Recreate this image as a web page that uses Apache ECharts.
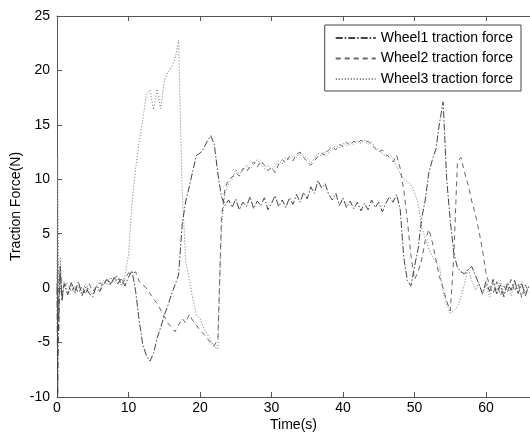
<!DOCTYPE html>
<html>
<head>
<meta charset="utf-8">
<script src="https://cdn.jsdelivr.net/npm/echarts@6/dist/echarts.min.js"></script>
<style>
  html, body { margin: 0; padding: 0; background: #fff; }
  #chart { width: 530px; height: 435px; }
</style>
</head>
<body>
<div id="chart"></div>
<script>
// Sample times in seconds (fine steps during the start-up transient, then every 0.5 s)
const time = [0, 0.1, 0.25, 0.45, 0.7,
  1, 1.5, 2, 2.5, 3, 3.5, 4, 4.5, 5, 5.5,
  6, 6.5, 7, 7.5, 8, 8.5, 9, 9.5, 10, 10.5,
  11, 11.5, 12, 12.5, 13, 13.5, 14, 14.5, 15, 15.5,
  16, 16.5, 17, 17.5, 18, 18.5, 19, 19.5, 20, 20.5,
  21, 21.5, 22, 22.5, 23, 23.5, 24, 24.5, 25, 25.5,
  26, 26.5, 27, 27.5, 28, 28.5, 29, 29.5, 30, 30.5,
  31, 31.5, 32, 32.5, 33, 33.5, 34, 34.5, 35, 35.5,
  36, 36.5, 37, 37.5, 38, 38.5, 39, 39.5, 40, 40.5,
  41, 41.5, 42, 42.5, 43, 43.5, 44, 44.5, 45, 45.5,
  46, 46.5, 47, 47.5, 48, 48.5, 49, 49.5, 50, 50.5,
  51, 51.5, 52, 52.5, 53, 53.5, 54, 54.5, 55, 55.5,
  56, 56.5, 57, 57.5, 58, 58.5, 59, 59.5, 60, 60.5,
  61, 61.5, 62, 62.5, 63, 63.5, 64, 64.5, 65, 65.5,
  66];

// Traction force of each wheel (N)
const wheel1 = [0, -10, -1.5, 2.0, -1.2,
  0.4, -0.6, 0.5, -0.3, 0.6, -0.7, 0.1, -0.5, -0.8, 0.2,
  -0.3, 0.4, 0.8, 0.3, 1.0, 0.4, 0.9, 0.2, 1.0, 1.6,
  -0.3, -3.0, -5.2, -6.2, -6.7, -6.0, -4.6, -3.6, -2.5, -1.6,
  -0.6, 0.3, 1.2, 5.8, 8.0, 9.3, 10.8, 12.2, 12.4, 12.8,
  13.5, 14.0, 13.2, 10.5, 8.4, 7.6, 8.1, 7.4, 8.2, 7.2,
  7.9, 7.5, 8.4, 7.3, 8.0, 7.6, 8.3, 7.2, 7.8, 8.5,
  7.5, 8.1, 7.4, 8.3, 7.7, 8.6, 7.9, 8.8, 8.2, 9.3,
  8.7, 9.9, 9.2, 9.6, 8.6, 8.1, 8.7, 7.6, 8.3, 7.4,
  8.0, 7.3, 7.9, 7.1, 7.8, 7.2, 8.1, 7.4, 7.9, 7.0,
  7.8, 8.4, 7.9, 8.6, 7.2, 2.8, 0.7, 0.2, 2.0, 3.6,
  6.4, 8.1, 10.6, 11.8, 12.8, 15.2, 17.1, 10.0, 6.2, 3.2,
  1.9, 1.5, 1.3, 1.7, 2.0, 1.2, 0.4, -0.5, 0.6, -0.3,
  0.8, -0.6, 0.3, -0.8, 0.5, -0.2, 0.7, -0.5, 0.4, -0.7,
  0.2];

const wheel2 = [0, 2.5, -4, 1.5, -0.6,
  0.2, 0.5, -0.4, 0.3, -0.5, 0.2, -0.6, 0.4, -0.3, 0.1,
  0.5, 0.2, 0.9, 0.4, 0.8, 1.2, 0.3, 0.8, 1.4, 1.3,
  1.5, 0.6, 0.3, 0.0, -0.5, -1.0, -1.4, -2.0, -2.6, -3.2,
  -3.6, -4.0, -3.4, -2.8, -3.2, -2.4, -3.0, -3.4, -3.9, -4.2,
  -4.6, -5.0, -5.3, -4.6, 6.5, 9.2, 10.0, 10.2, 10.6, 10.3,
  11.0, 10.7, 11.2, 11.6, 11.1, 11.7, 11.3, 10.8, 11.1, 10.6,
  11.4, 11.8, 11.5, 12.1, 11.7, 12.3, 12.5, 12.0, 11.6, 11.3,
  11.7, 12.1, 12.4, 12.2, 12.7, 13.0, 12.7, 13.2, 13.0, 13.4,
  13.1, 13.5, 13.3, 13.6, 13.4, 13.5, 13.2, 12.8, 12.5, 12.7,
  12.3, 12.0, 11.6, 12.2, 11.0, 9.0, 6.2, 3.0, 0.8, 1.5,
  2.6, 4.4, 5.4, 4.2, 2.6, 1.0, 0.0, -1.2, -2.1, 3.0,
  11.6, 12.0, 10.6, 9.5, 8.0, 6.8, 5.3, 3.5, 1.4, 0.2,
  -0.5, 0.6, -0.7, 0.2, -0.4, 0.8, -0.3, 0.5, -0.9, 0.3,
  -0.4];

const wheel3 = [0, 12, -3, 2.8, -1.0,
  0.6, -0.3, 0.3, -0.5, 0.2, -0.4, 0.4, -0.2, -0.6, 0.3,
  -0.1, 0.7, 0.3, 1.0, 0.5, 0.9, 0.2, 1.2, 3.0, 8.0,
  11.0, 13.5, 15.5, 17.8, 18.2, 16.4, 18.3, 16.5, 19.0, 19.8,
  20.3, 21.0, 22.8, 9.0, 2.5, 0.8, -1.0, -2.5, -2.8, -3.6,
  -4.2, -4.8, -5.4, -5.6, 5.5, 8.8, 9.6, 10.0, 10.9, 10.5,
  10.8, 11.3, 10.9, 11.4, 11.8, 11.4, 11.0, 11.3, 10.9, 11.2,
  11.7, 11.4, 12.0, 11.8, 12.2, 12.0, 12.4, 12.2, 11.9, 11.5,
  11.9, 12.4, 12.1, 12.6, 12.4, 12.8, 13.1, 12.9, 13.3, 13.1,
  13.4, 13.2, 13.5, 13.3, 13.6, 13.2, 13.4, 13.0, 12.6, 12.4,
  12.1, 12.3, 11.9, 11.2, 10.5, 10.0, 9.8, 9.5, 8.8, 7.8,
  5.6, 4.6, 3.6, 2.9, 2.4, 2.0, -0.4, -1.4, -2.3, -2.1,
  -1.7, -0.8, 0.4, 1.8, 0.7, -0.2, 0.5, -0.6, 0.3, -0.8,
  0.5, -0.2, 0.7, -0.5, 0.2, -0.7, 0.4, -0.1, 0.6, -0.4,
  0.1];

const seriesNames = ['Wheel1 traction force', 'Wheel2 traction force', 'Wheel3 traction force'];

// Axis ranges and tick spacing
const xMin = 0, xMax = 66.15, xStep = 10;
const yMin = -10, yMax = 25, yStep = 5;
const xTitle = 'Time(s)';
const yTitle = 'Traction Force(N)';

const FONT = '"Liberation Sans", Arial, sans-serif';
const FS = 14;
const AXIS_COLOR = '#555';

const pairs = vals => time.map((t, i) => [t, vals[i]]);

const styles = [
  { color: '#444', type: [7, 2, 1.5, 2] },   // dash-dot
  { color: '#666', type: [5, 4] },           // dashed
  { color: '#888', type: [1.2, 1.8] }        // dotted
];

const chart = echarts.init(document.getElementById('chart'), null, { renderer: 'canvas' });

const baseX = {
  type: 'value', min: xMin, max: xMax, interval: xStep,
  axisLine: { show: true, onZero: false, lineStyle: { color: AXIS_COLOR, width: 1 } },
  axisTick: { show: true, inside: true, length: 5, lineStyle: { color: AXIS_COLOR } },
  splitLine: { show: false }
};

chart.setOption({
  animation: false,
  backgroundColor: '#fff',
  textStyle: { fontFamily: FONT },
  grid: { left: 57, right: 0, top: 16, bottom: 38, outerBoundsMode: 'none', containLabel: false },
  legend: {
    data: seriesNames,
    orient: 'vertical',
    right: 9, top: 25,
    itemWidth: 40, itemHeight: 14, itemGap: 6.5,
    padding: [6, 8, 5, 10],
    borderColor: '#444', borderWidth: 1, borderRadius: 0,
    backgroundColor: '#fff',
    // line samples only, no marker in the middle
    itemStyle: { opacity: 0 },
    textStyle: { fontSize: FS, color: '#000', fontFamily: FONT }
  },
  xAxis: [
    Object.assign({}, baseX, {
      position: 'bottom',
      name: xTitle, nameLocation: 'middle', nameGap: 21, nameMoveOverlap: false,
      nameTextStyle: { fontSize: FS, color: '#000', fontFamily: FONT },
      axisLabel: {
        show: true, margin: 4, fontSize: FS, color: '#000', fontFamily: FONT,
        showMaxLabel: false,
        formatter: v => (v % xStep === 0 ? String(v) : '')
      }
    }),
    Object.assign({}, baseX, { position: 'top', axisLabel: { show: false } })
  ],
  yAxis: [{
    type: 'value', min: yMin, max: yMax, interval: yStep,
    position: 'left',
    name: yTitle, nameLocation: 'middle', nameGap: 34, nameMoveOverlap: false,
    nameTextStyle: { fontSize: FS, color: '#000', fontFamily: FONT },
    axisLine: { show: true, onZero: false, lineStyle: { color: AXIS_COLOR, width: 1 } },
    axisTick: { show: true, inside: true, length: 5, lineStyle: { color: AXIS_COLOR } },
    axisLabel: { margin: 7, fontSize: FS, color: '#000', fontFamily: FONT },
    splitLine: { show: false }
  }],
  series: [wheel1, wheel2, wheel3].map((vals, i) => ({
    name: seriesNames[i],
    type: 'line',
    xAxisIndex: 0,
    data: pairs(vals),
    symbol: 'none',
    showSymbol: false,
    lineStyle: { width: 1, color: styles[i].color, type: styles[i].type },
    itemStyle: { color: styles[i].color },
    z: 3 - i
  }))
});
</script>
</body>
</html>
